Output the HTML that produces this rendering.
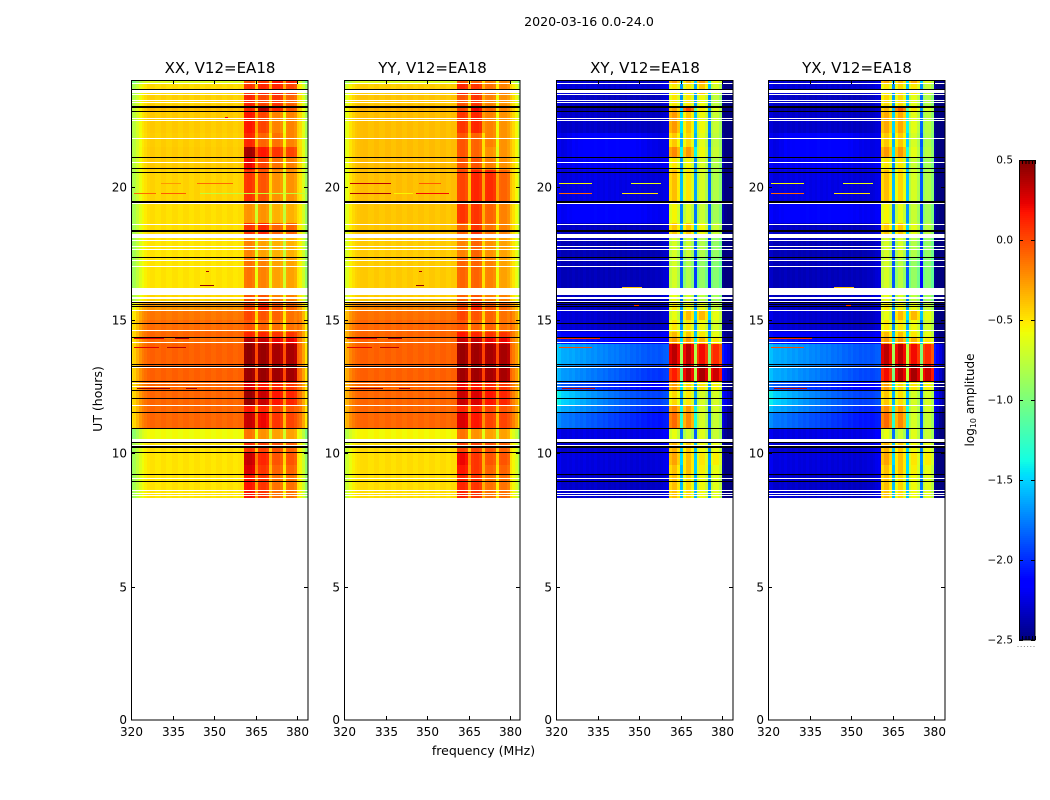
<!DOCTYPE html>
<html lang="en">
<head>
<meta charset="utf-8">
<title>2020-03-16 0.0-24.0</title>
<style>
html,body{margin:0;padding:0;background:#fff;width:1050px;height:800px;overflow:hidden}
svg{display:block}
text{font-family:"DejaVu Sans","Liberation Sans",sans-serif;fill:#000}
</style>
</head>
<body>
<svg id="chart" xmlns="http://www.w3.org/2000/svg" width="1050" height="800" viewBox="0 0 1050 800">
  <rect x="0" y="0" width="1050" height="800" fill="#fff"/>
  <text x="589" y="26" font-size="12.6" text-anchor="middle">2020-03-16 0.0-24.0</text>
  <text x="483.5" y="755" font-size="12.5" text-anchor="middle">frequency (MHz)</text>
  <text x="0" y="0" font-size="12.5" text-anchor="middle" transform="translate(102,399) rotate(-90)">UT (hours)</text>
  <text x="0" y="0" font-size="12" text-anchor="middle" transform="translate(974,400) rotate(-90)">log<tspan font-size="8" dy="2">10</tspan><tspan dy="-2"> amplitude</tspan></text>
  <g id="panels"></g>
  <g id="colorbar"></g>
</svg>
<script>
// ---- Chart data ----
const panelTitles = ['XX, V12=EA18', 'YY, V12=EA18', 'XY, V12=EA18', 'YX, V12=EA18'];
const xTickLabels = [320, 335, 350, 365, 380];
const yTickLabels = [0, 5, 10, 15, 20];
const colorbarTicks = [-2.5, -2.0, -1.5, -1.0, -0.5, 0.0, 0.5];

// UT (hours) at the top edge of each time block
const blockTopUT = [24.0, 23.89, 23.475, 23.025, 22.8, 22.01, 21.49, 21.075, 20.625, 19.39,
  18.64, 18.075, 17.36, 15.94, 15.675, 15.375, 15.0, 14.55, 14.325, 14.1,
  13.35, 12.675, 12.375, 11.81, 11.51, 10.95, 10.5, 10.05, 9.56, 9.19];
const dataStartUT = 8.29;

// log10 amplitude per time block in the continuum channels
const xxLo = [-.65,-.47,-.44,-.38,-.42,-.43,-.42,-.42,-.45,-.48,-.48,-.5,-.5,-.46,-.25,-.15,-.12,-.1,-.12,-.08,-.08,-.1,-.1,-.1,-.1,-.58,-.5,-.5,-.5,-.5];
const yyLo = [-.65,-.43,-.4,-.34,-.38,-.38,-.38,-.37,-.38,-.4,-.4,-.42,-.42,-.42,-.2,-.13,-.1,-.1,-.1,-.08,-.08,-.1,-.1,-.1,-.1,-.56,-.47,-.48,-.48,-.48];
const xyLo = [-2.3,-2.27,-2.32,-2.4,-2.32,-2.27,-2.27,-2.22,-2.27,-2.22,-2.32,-2.36,-2.36,-2.35,-2.32,-2.27,-2.27,-2.15,-2.05,-1.6,-1.65,-1.85,-1.45,-1.6,-1.75,-2.25,-2.3,-2.25,-2.25,-2.3];
const yxLo = [-2.3,-2.27,-2.32,-2.4,-2.32,-2.27,-2.27,-2.22,-2.27,-2.22,-2.32,-2.36,-2.36,-2.35,-2.32,-2.27,-2.27,-2.15,-2.05,-1.6,-1.6,-1.85,-1.45,-1.6,-1.75,-2.25,-2.3,-2.25,-2.25,-2.3];

// log10 amplitude per time block in the four sub-bands of the 361-380 MHz band
const xxBand1 = [-.05,.05,.1,.1,.15,.1,.4,.2,.05,-.25,.05,-.2,-.15,-.05,0,0,-.05,.1,.35,.45,.42,.25,.42,.15,.3,-.15,.05,.3,.25,.15];
const xxBand2 = [.05,.1,0,.35,0,-.1,.15,0,-.05,-.25,.1,-.3,-.2,-.05,.1,-.05,-.1,.1,.3,.42,.42,.15,.3,.1,.2,-.25,0,.1,.05,.05];
const xxBand3 = [.15,.1,.05,.1,-.2,-.15,.05,-.15,-.25,-.35,-.1,-.35,-.3,-.2,-.05,-.1,-.15,.05,.2,.38,.4,.1,.15,0,.05,-.3,-.05,-.05,-.1,-.15];
const xxBand4 = [.1,0,-.1,-.05,-.2,-.2,0,-.2,-.25,-.35,-.1,-.35,-.3,-.2,-.1,-.15,-.15,.05,.2,.38,.4,.05,.1,-.05,0,-.3,-.1,-.05,-.1,-.15];
const yyBand1 = [-.05,.1,-.05,0,.05,-.05,-.05,-.05,0,.05,-.1,-.2,-.1,-.1,0,0,-.05,.15,.3,.42,.4,.2,.3,.1,.25,-.15,0,.2,.15,.1];
const yyBand2 = [-.1,.05,.05,.2,.1,-.1,-.1,-.05,.1,.05,.05,-.1,-.1,-.05,.1,-.05,-.1,.1,.3,.4,.4,.15,.25,.1,.15,-.25,0,.05,.05,.05];
const yyBand3 = [-.2,-.15,-.2,-.1,-.2,-.2,-.25,-.2,.08,-.1,-.15,-.25,-.2,-.2,-.05,-.1,-.1,.05,.2,.38,.38,.1,.15,0,0,-.3,-.05,-.05,-.1,-.15];
const yyBand4 = [-.2,-.2,-.25,-.2,-.25,-.25,-.25,-.25,-.1,-.2,-.2,-.3,-.3,-.2,-.1,-.15,-.15,.05,.2,.38,.38,.05,.1,-.05,0,-.3,-.1,-.05,-.1,-.15];
const xyBand1 = [-.3,-.55,-.55,-.35,-.3,-.45,-.25,-.55,-.42,-.6,-.45,-.72,-.72,-.65,-.55,-.65,-.55,-.4,-.3,.3,.1,-.3,-.5,-.25,-.15,-.65,-.38,-.33,-.42,-.42];
const xyBand2 = [-.4,-.55,-.55,-.05,-.45,-.5,-.3,-.6,-.55,-.68,-.45,-.75,-.85,-.72,-.62,-.4,-.55,-.45,-.3,.3,.3,-.5,-.55,-.3,-.25,-.75,-.45,-.42,-.42,-.5];
const xyBand3 = [-.3,-.45,-.62,-.55,-.62,-.67,-.62,-.72,-.72,-.77,-.62,-.85,-.95,-.82,-.65,-.4,-.62,-.55,-.4,.15,.35,-.55,-.72,-.72,-.72,-.68,-.62,-.55,-.58,-.62];
const xyBand4 = [-.62,-.72,-.8,-.68,-.77,-.8,-.77,-.85,-.85,-.9,-.77,-.95,-1,-.9,-.78,-.65,-.72,-.65,-.55,.05,.25,-.6,-.72,-.72,-.77,-.77,-.65,-.58,-.65,-.68];
const yxBand1 = [-.35,-.55,-.5,-.4,-.35,-.45,-.3,-.55,-.42,-.6,-.45,-.72,-.72,-.65,-.55,-.65,-.55,-.4,-.3,.3,.15,-.3,-.45,-.25,-.15,-.65,-.38,-.33,-.42,-.42];
const yxBand2 = [-.4,-.5,-.5,-.1,-.35,-.45,-.3,-.55,-.5,-.65,-.45,-.72,-.82,-.72,-.6,-.4,-.55,-.42,-.3,.3,.32,-.5,-.52,-.3,-.25,-.75,-.45,-.42,-.42,-.5];
const yxBand3 = [-.35,-.55,-.67,-.55,-.67,-.72,-.67,-.77,-.72,-.77,-.67,-.85,-.95,-.82,-.65,-.4,-.62,-.55,-.4,.15,.35,-.55,-.72,-.72,-.72,-.68,-.62,-.55,-.58,-.62];
const yxBand4 = [-.67,-.77,-.85,-.72,-.82,-.85,-.82,-.9,-.85,-.9,-.82,-.95,-1,-.9,-.78,-.65,-.72,-.65,-.55,.05,.25,-.6,-.72,-.72,-.77,-.77,-.65,-.58,-.65,-.68];

// amplitude drop and mid-band rise across the continuum channels in the cross-hand panels
const crossTilt = [.05,.05,.05,0,.05,.05,.05,.05,.05,.05,.05,.03,0,0,.05,.1,.1,.1,.2,.35,.4,.35,.55,.5,.4,0,0,.05,.05,.05];
const crossBump = [0,0,0,0,.02,.15,.15,.05,.05,.1,0,0,0,0,0,0,0,0,0,0,0,0,-.08,0,0,0,0,0,0,0];
const parallelZero = [0,0,0,0,0,0,0,0,0,0,0,0,0,0,0,0,0,0,0,0,0,0,0,0,0,0,0,0,0,0];

// per-channel offsets (64 channels, 1 MHz each); channels 41-59 are the hot band
const xxChan = [-.4,-.35,-.25,-.15,-.08,-.04,0,.015,.015,-.01,-.01,.015,.015,-.01,-.01,.015,.015,-.01,-.01,.015,.015,-.01,-.01,.015,.015,-.01,-.01,.015,.015,-.01,-.01,.015,.015,-.01,-.01,.015,.015,-.01,-.01,.01,.01,
  0,.02,.02,-.02,-.45,0,.02,.02,-.02,-.42,0,.02,.02,-.02,-.4,0,.02,.02,-.03,0,-.05,-.2,-.42];
const yyChan = [-.3,-.22,-.12,-.06,-.02,0,.01,.015,.015,-.01,-.01,.015,.015,-.01,-.01,.015,.015,-.01,-.01,.015,.015,-.01,-.01,.015,.015,-.01,-.01,.015,.015,-.01,-.01,.015,.015,-.01,-.01,.015,.015,-.01,-.01,.01,.01,
  0,.02,.02,-.02,-.4,0,.02,.02,-.02,-.38,0,.02,.02,-.02,-.38,0,.02,.02,-.03,0,-.08,-.18,-.38];
const xyChan = [.1,.05,0,0,.02,0,.03,0,.02,0,.03,0,.02,0,.03,0,.02,0,.03,0,.02,0,.03,0,.02,0,.03,0,.02,0,.03,0,.02,0,.03,.02,.04,.03,.05,.08,.1,
  -.05,.05,.05,-.1,-1.15,-.1,.05,.05,-.1,-1.1,-.1,.05,.05,-.1,-1.1,-.05,.05,.05,-.1,-.1,-.2,-.3,-.4];
const yxChan = [.1,.05,0,0,.02,0,.03,0,.02,0,.03,0,.02,0,.03,0,.02,0,.03,0,.02,0,.03,0,.02,0,.03,0,.02,0,.03,0,.02,0,.03,.02,.04,.03,.05,.08,.1,
  -.05,.05,.05,-.1,-1.15,-.1,.05,.05,-.1,-1.05,-.1,.05,.05,-.1,-1.15,-.05,.05,.05,-.1,-.1,-.2,-.3,-.4];

// flagged (blank) integrations: UT from, UT to
const blankStartUT = [23.87,23.625,23.475,23.25,23.16,22.575,22.5,21.825,20.925,19.39,18.6,18.225,18.0,17.79,17.68,17.25,17.025,16.2,15.86,15.73,15.6,15.51,15.375,14.625,14.175,13.24,12.64,12.54,11.81,10.54,10.31,9.075,8.61,8.53,8.44,8.325];
const blankEndUT   = [23.835,23.51,23.44,23.2,23.12,22.54,22.46,21.79,20.89,19.35,18.56,18.075,17.96,17.76,17.64,17.21,16.99,15.94,15.77,15.69,15.56,15.47,15.34,14.59,14.14,13.2,12.6,12.5,11.775,10.44,10.275,9.04,8.57,8.49,8.4,8.29];
// integrations that drop to zero amplitude (drawn black)
const zeroUT = [23.66,23.025,22.99,22.84,21.11,20.7,20.55,19.46,19.43,18.375,18.34,17.36,15.675,15.6,15.51,14.89,14.36,13.35,13.275,12.71,12.375,12.075,11.55,10.95,10.425,10.275,10.24,10.05,9.225,8.96];

// narrow interference events: UT, start MHz, end MHz, log10 amplitude
const xxRfiUT    = [20.15,20.15,19.75,19.75,19.75,14.34,14.34,14.0,14.0,12.46,12.46,16.85,16.3,22.6];
const xxRfiFrom  = [331,344,321,331,345,321,336,321,333,322,340,347,345,354];
const xxRfiTo    = [338,357,329,340,384,332,341,330,340,334,344,348,350,355];
const xxRfiLevel = [-.25,-.1,-.1,-.05,-.75,.25,.35,.25,.35,.45,.4,.4,.45,.2];
const yyRfiUT    = [20.15,20.15,19.75,19.75,19.75,14.34,14.34,14.0,14.0,12.46,12.46,16.85,16.3];
const yyRfiFrom  = [322,347,322,346,338,321,336,321,333,322,340,347,346];
const yyRfiTo    = [337,355,337,358,345,332,341,330,340,334,344,348,349];
const yyRfiLevel = [.35,-.05,.4,.2,-.55,.25,.35,.25,.35,.45,.4,.4,.45];
const xyRfiUT    = [20.15,20.15,19.75,19.75,14.34,14.0,12.46,16.25,15.55];
const xyRfiFrom  = [321,347,321,344,320,321,322,344,348];
const xyRfiTo    = [333,358,333,357,336,333,334,351,350];
const xyRfiLevel = [-.55,-.6,-.1,-.5,.1,0,.35,-.4,.1];
const yxRfiUT    = [20.15,20.15,19.75,19.75,14.34,14.0,12.46,16.25,15.55];
const yxRfiFrom  = [321,347,321,344,320,321,322,344,348];
const yxRfiTo    = [333,358,333,357,336,333,334,351,350];
const yxRfiLevel = [-.55,-.6,-.1,-.5,.1,0,.35,-.4,.1];

const panelLo = [xxLo, yyLo, xyLo, yxLo];
const panelBands = [
  [xxBand1, xxBand2, xxBand3, xxBand4],
  [yyBand1, yyBand2, yyBand3, yyBand4],
  [xyBand1, xyBand2, xyBand3, xyBand4],
  [yxBand1, yxBand2, yxBand3, yxBand4]
];
const panelTilt = [parallelZero, parallelZero, crossTilt, crossTilt];
const panelBump = [parallelZero, parallelZero, crossBump, crossBump];
const panelChan = [xxChan, yyChan, xyChan, yxChan];
const panelRfi = [
  [xxRfiUT, xxRfiFrom, xxRfiTo, xxRfiLevel],
  [yyRfiUT, yyRfiFrom, yyRfiTo, yyRfiLevel],
  [xyRfiUT, xyRfiFrom, xyRfiTo, xyRfiLevel],
  [yxRfiUT, yxRfiFrom, yxRfiTo, yxRfiLevel]
];

// ---- Layout and scales ----
const NS = 'http://www.w3.org/2000/svg';
const panelLeft = [131, 344, 556, 768];
const panelWidth = [177, 176, 177, 177];
const axTop = 80, axBottom = 720;
const pxPerMHz = 2.77;
const firstChannelEdge = 319.8;
const hotFirst = 41, hotLast = 59;

function yScale(ut) { return axBottom - ut * (axBottom - axTop) / 24; }
function xScale(p, mhz) { return panelLeft[p] + (mhz - 320) * pxPerMHz; }
function cbScale(v) { return 640 - (v + 2.5) * 160; }

function ramp(pts, t) {
  for (let i = 1; i < pts.length; i++) {
    if (t <= pts[i][0]) {
      const a = pts[i - 1], b = pts[i];
      return a[1] + (b[1] - a[1]) * (t - a[0]) / (b[0] - a[0]);
    }
  }
  return pts[pts.length - 1][1];
}
const jetR = [[0,0],[.35,0],[.66,1],[.89,1],[1,.5]];
const jetG = [[0,0],[.125,0],[.375,1],[.64,1],[.91,0],[1,0]];
const jetB = [[0,.5],[.11,1],[.34,1],[.65,0],[1,0]];
function jet(v) {
  const t = Math.max(0, Math.min(1, (v + 2.5) / 3));
  const c = [ramp(jetR, t), ramp(jetG, t), ramp(jetB, t)].map(function (x) { return Math.round(x * 255); });
  return 'rgb(' + c[0] + ',' + c[1] + ',' + c[2] + ')';
}
function mk(tag, parent, attrs) {
  const el = document.createElementNS(NS, tag);
  for (const k in attrs) el.setAttribute(k, attrs[k]);
  parent.appendChild(el);
  return el;
}
function subBandOf(i) { return i <= 45 ? 0 : i <= 50 ? 1 : i <= 55 ? 2 : 3; }

// ---- Panels ----
const panelsRoot = document.getElementById('panels');
panelTitles.forEach(function (title, p) {
  const L = panelLeft[p], W = panelWidth[p];
  const g = mk('g', panelsRoot, {});
  
  

  const heat = mk('g', g, { 'shape-rendering': 'crispEdges' });
  
  

  const lo = panelLo[p], bands = panelBands[p], tilt = panelTilt[p], bump = panelBump[p], chan = panelChan[p];
  blockTopUT.forEach(function (top, b) {
    const bottom = b + 1 < blockTopUT.length ? blockTopUT[b + 1] : dataStartUT;
    const y0 = Math.round(yScale(top)), y1 = Math.round(yScale(bottom));
    chan.forEach(function (offset, i) {
      const isHot = i >= hotFirst && i <= hotLast;
      const u = (i - 20) / 20;
      const base = isHot ? bands[subBandOf(i)][b]
        : lo[b] - tilt[b] * Math.min(i, hotFirst) / hotFirst + bump[b] * Math.max(0, 1 - u * u);
      const value = base + offset;
      const x0 = Math.round(Math.max(L, xScale(p, firstChannelEdge + i)));
      const x1 = i === chan.length - 1 ? L + W : Math.round(xScale(p, firstChannelEdge + i + 1));
      const cell = mk('rect', heat, { x: x0, y: y0, width: x1 - x0, height: y1 - y0, fill: jet(value) });
      
      
    });
  });

  const rfi = panelRfi[p];
  rfi[0].forEach(function (ut, r) {
    const x0 = Math.round(xScale(p, rfi[1][r])), x1 = Math.round(xScale(p, rfi[2][r]));
    const line = mk('rect', heat, { x: x0, y: Math.round(yScale(ut)), width: Math.max(1, Math.min(L + W, x1) - x0), height: 1, fill: jet(rfi[3][r]) });
    
    
  });

  blankStartUT.forEach(function (ut, k) {
    const y0 = Math.round(yScale(ut)), y1 = Math.round(yScale(blankEndUT[k]));
    const gap = mk('rect', heat, { x: L, y: y0, width: W, height: Math.max(1, y1 - y0), fill: '#fff' });
    
    
  });
  zeroUT.forEach(function (ut) {
    const zero = mk('rect', heat, { x: L, y: Math.round(yScale(ut)), width: W, height: 1, fill: '#000' });
    
    
  });

  const ticks = mk('g', g, { stroke: '#000', 'stroke-width': 1, 'shape-rendering': 'crispEdges' });
  
  

  xTickLabels.forEach(function (f) {
    const x = Math.round(xScale(p, f)) + 0.5;
    const t1 = mk('line', ticks, { x1: x, x2: x, y1: axBottom, y2: axBottom - 4 });
    
    
    const t2 = mk('line', ticks, { x1: x, x2: x, y1: axTop, y2: axTop + 4 });
    
    
    const lab = mk('text', g, { x: x, y: 736, 'font-size': 12, 'text-anchor': 'middle' });
    
    
    lab.textContent = String(f);
  });
  yTickLabels.forEach(function (u) {
    const y = Math.round(yScale(u)) + (u === 0 ? 0 : 0.5);
    const t1 = mk('line', ticks, { x1: L, x2: L + 4, y1: y, y2: y });
    
    
    const t2 = mk('line', ticks, { x1: L + W, x2: L + W - 4, y1: y, y2: y });
    
    
    const lab = mk('text', g, { x: L - 4, y: y + 4, 'font-size': 12, 'text-anchor': 'end' });
    
    
    lab.textContent = String(u);
  });

  const frame = mk('rect', g, { x: L + 0.5, y: axTop + 0.5, width: W - 0.5, height: axBottom - axTop - 0.5, fill: 'none', stroke: '#000', 'stroke-width': 1, 'shape-rendering': 'crispEdges' });
  
  

  const ttl = mk('text', g, { x: L + W / 2 + 0.5, y: 73, 'font-size': 15, 'text-anchor': 'middle' });
  
  
  ttl.textContent = title;
});

// ---- Colorbar ----
const cbRoot = document.getElementById('colorbar');
const cbX = 1019, cbW = 16;
const cbImg = mk('g', cbRoot, { 'shape-rendering': 'crispEdges' });


for (let y = 160; y < 640; y += 2) {
  const seg = mk('rect', cbImg, { x: cbX, y: y, width: cbW, height: 2, fill: jet(-2.5 + (640 - y - 1) / 160) });
  
  
}
const cbTicks = mk('g', cbRoot, { stroke: '#000', 'stroke-width': 1, 'shape-rendering': 'crispEdges' });


colorbarTicks.forEach(function (v) {
  const y = Math.round(cbScale(v)) + 0.5;
  const a = mk('line', cbTicks, { x1: cbX, x2: cbX + 4, y1: y, y2: y });
  
  
  const b = mk('line', cbTicks, { x1: cbX + cbW - 4, x2: cbX + cbW, y1: y, y2: y });
  
  
  const lab = mk('text', cbRoot, { x: 1013, y: Math.round(cbScale(v)) + 3.5, 'font-size': 10.5, 'text-anchor': 'end' });
  
  
  lab.textContent = v.toFixed(1).replace('-', '\u2212');
});
for (let k = 0; k < 6; k++) {
  const x = cbX + 0.5 + k * 3.2;
  const a = mk('line', cbTicks, { x1: x, x2: x, y1: 160, y2: 164 });
  
  
  const b = mk('line', cbTicks, { x1: x, x2: x, y1: 640, y2: 636 });
  
  
  const d = mk('rect', cbRoot, { x: cbX - 1.5 + k * 3.2, y: 646, width: 1, height: 1, fill: '#888' });
  
  
}
const cbFrame = mk('rect', cbRoot, { x: cbX + 0.5, y: 160.5, width: cbW - 0.5, height: 479.5, fill: 'none', stroke: '#000', 'stroke-width': 1, 'shape-rendering': 'crispEdges' });


</script>
</body>
</html>
